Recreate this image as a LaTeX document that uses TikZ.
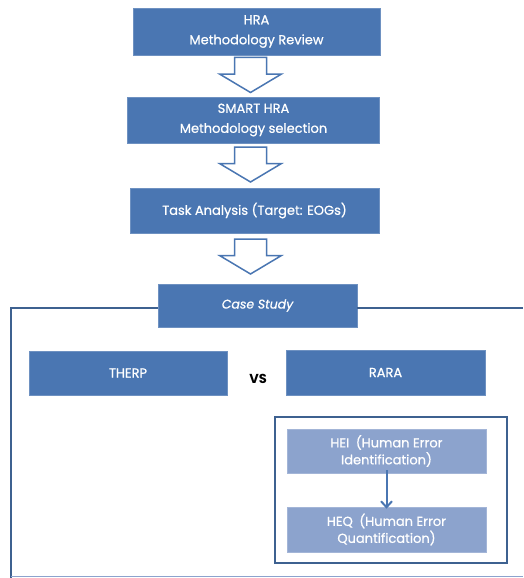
\documentclass[tikz,border=0pt]{standalone}
\usepackage{fontspec}
\setmainfont{Poppins}
\newfontfamily\boxfont{Poppins}[FakeBold=0.7]
\usetikzlibrary{arrows.meta}
\begin{document}
\begin{tikzpicture}[x=1pt,y=-1pt,
  blue box/.style={fill=boxblue, draw=boxblue!80!white, line width=0.6pt, text=white, align=center, inner sep=0pt, font=\boxfont\fontsize{13}{20}\selectfont},
  light box/.style={fill=lightblue, draw=lightblue!80!white, line width=0.6pt, text=white, align=center, inner sep=0pt, font=\boxfont\fontsize{13}{17}\selectfont},
  blockarrow/.pic={\draw[draw=boxblue, line width=1.5pt, fill=white, line join=miter]
     (-16,-17.5) -- (16,-17.5) -- (16,-1) -- (31,-1) -- (0,17.5) -- (-31,-1) -- (-16,-1) -- cycle;},
  frame/.style={draw=framecol, line width=2.6pt}
]
\definecolor{boxblue}{HTML}{4A76B2}
\definecolor{lightblue}{HTML}{8CA3CD}
\definecolor{framecol}{HTML}{3E6190}
\useasboundingbox (0,0) rectangle (523,578);

\node[blue box, minimum width=247, minimum height=47] (hra) at (256.5,31.5) {HRA\\Methodology Review};
\node[blue box, minimum width=252, minimum height=46] (smart) at (253.5,120) {SMART HRA\\Methodology selection};
\node[blue box, minimum width=249, minimum height=45] (task) at (254.5,210.5) {Task Analysis (Target: EOGs)};
\node[blue box, minimum width=199, minimum height=43, font=\boxfont\fontsize{12.5}{15}\selectfont\itshape] (case) at (257.5,305.5) {Case Study};

\pic at (250.5,75) {blockarrow};
\pic at (250.5,164.5) {blockarrow};
\pic at (250.5,256.5) {blockarrow};

% big open frame
\coordinate (fl) at (11,308);
\coordinate (fr) at (523,308);
\draw[frame] (case.west |- fl) -- (fl) -- (11,578);
\draw[frame] (case.east |- fl) -- (fr);
\draw[draw=lightblue, line width=1pt] (11,576.5) -- (523,576.5);

\node[blue box, minimum width=198, minimum height=44] (therp) at (128,373) {THERP};
\node[blue box, minimum width=199, minimum height=45] (rara) at (385.5,372.5) {RARA};
\node[font=\fontsize{13}{15}\selectfont\bfseries, text=black] (vs) at (258,379) {VS};

\node[draw=framecol, line width=2.6pt, minimum width=232, minimum height=146, inner sep=0pt] (inner) at (391,490) {};
\node[light box, minimum width=199, minimum height=44] (hei) at (386.5,451) {HEI\enspace(Human Error\\Identification)};
\node[light box, minimum width=199, minimum height=45] (heq) at (386.5,529.5) {HEQ\enspace(Human Error\\Quantification)};
\draw[draw=boxblue, line width=2pt, -{Straight Barb[length=6pt,width=11pt]}] ([yshift=3pt]hei.south) -- ([yshift=-2pt]heq.north);
\end{tikzpicture}
\end{document}
